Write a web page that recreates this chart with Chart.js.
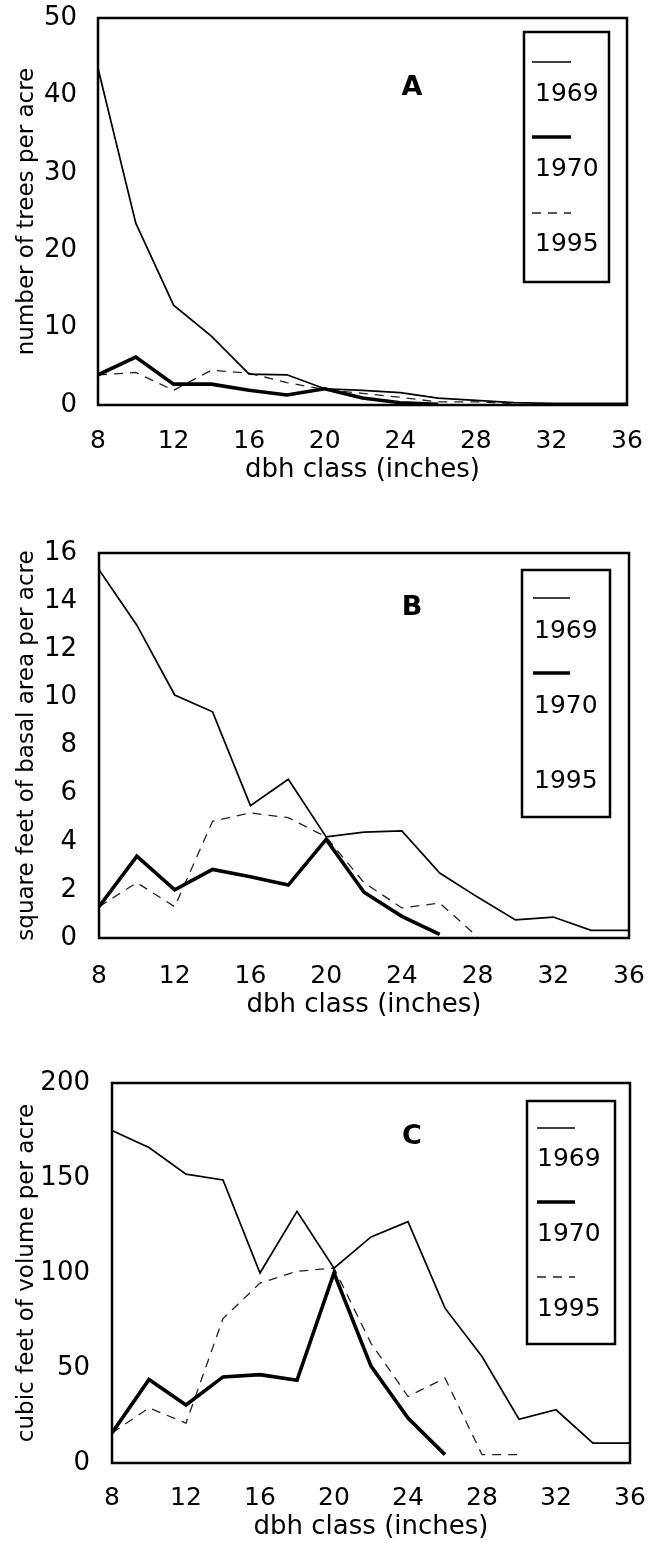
<!DOCTYPE html>
<html><head><meta charset="utf-8">
<script src="https://cdn.jsdelivr.net/npm/chart.js@4.4.1/dist/chart.umd.min.js"></script>
<style>
html,body{margin:0;padding:0;background:#fff;}
#wrap{position:relative;width:650px;height:1543px;overflow:hidden;}
.box{position:absolute;left:0;width:650px;}
</style></head><body>
<div id="wrap">
<div class="box" style="top:0;height:520px"><canvas id="cA"></canvas></div>
<div class="box" style="top:520px;height:520px"><canvas id="cB"></canvas></div>
<div class="box" style="top:1040px;height:503px"><canvas id="cC"></canvas></div>
</div>
<script>
// ---- data ----
const dbhClasses = [8,10,12,14,16,18,20,22,24,26,28,30,32,34,36];
const xTickValues = [8,12,16,20,24,28,32,36];
const seriesNames = ['1969','1970','1995'];

const treesTicks = [0,10,20,30,40,50];
const trees1969 = [43.5,23.5,12.9,8.9,4.0,3.9,2.1,1.9,1.6,0.9,0.6,0.3,0.2,0.2,0.2];
const trees1970 = [3.9,6.2,2.7,2.7,1.9,1.3,2.1,0.9,0.3,0.1];
const trees1995 = [3.9,4.2,1.9,4.5,4.1,2.9,2.0,1.5,1.0,0.4,0.4,0.2];

const basalTicks = [0,2,4,6,8,10,12,14,16];
const basal1969 = [15.3,13.0,10.1,9.4,5.5,6.6,4.2,4.4,4.45,2.7,1.7,0.75,0.87,0.32,0.32];
const basal1970 = [1.3,3.4,2.0,2.85,2.55,2.2,4.1,1.9,0.9,0.15];
const basal1995 = [1.3,2.3,1.3,4.85,5.2,5.0,4.2,2.3,1.25,1.45,0.05];

const volumeTicks = [0,50,100,150,200];
const volume1969 = [175,166,152,149,100,132.5,102.5,119,127,81.5,56,23,28,10.5,10.5];
const volume1970 = [15.8,44,30.5,45.3,46.5,43.5,100,51,23.7,4.4];
const volume1995 = [15.8,29,21,76,94.7,100.9,102.6,63,35,44.7,4.4,4.4];

// ---- rendering ----
const FONT = "'DejaVu Sans', sans-serif";
Chart.defaults.color = '#000';
Chart.defaults.font.family = FONT;

function pts(vals){ return vals.map((v,i)=>({x: dbhClasses[i], y: v})); }
function noPad(s){ s.paddingLeft = 0; s.paddingRight = 0; s.paddingTop = 0; s.paddingBottom = 0; }

const framePlugin = {
  id: 'frameLegend',
  afterDatasetsDraw(chart, args, o) {
    const ctx = chart.ctx, a = chart.chartArea;
    ctx.save();
    ctx.strokeStyle = '#000';
    ctx.lineWidth = 2.5;
    ctx.strokeRect(a.left, a.top, a.right - a.left, a.bottom - a.top);
    // panel letter
    ctx.fillStyle = '#000';
    ctx.font = "bold 27px " + FONT;
    ctx.textAlign = 'center';
    ctx.textBaseline = 'middle';
    ctx.fillText(o.letter, o.letterX, o.letterY);
    // legend box
    const b = o.box;
    ctx.lineWidth = 2.5;
    ctx.strokeRect(b[0], b[1], b[2]-b[0], b[3]-b[1]);
    ctx.font = "25px " + FONT;
    ctx.textAlign = 'left';
    o.entries.forEach((e, i) => {
      const ds = chart.data.datasets[i];
      if (e.sampleY !== null) {
        ctx.beginPath();
        ctx.lineWidth = ds.borderWidth;
        ctx.strokeStyle = ds.borderColor;
        ctx.setLineDash(ds.borderDash || []);
        ctx.moveTo(o.sampleX[0], e.sampleY);
        ctx.lineTo(o.sampleX[1], e.sampleY);
        ctx.stroke();
        ctx.setLineDash([]);
      }
      ctx.fillStyle = '#000';
      ctx.fillText(ds.label, o.textX, e.textY);
    });
    ctx.restore();
  }
};

function makeChart(id, cfg) {
  const datasets = [
    {label: seriesNames[0], data: pts(cfg.s[0]), borderColor:'#000', borderWidth:1.7},
    {label: seriesNames[1], data: pts(cfg.s[1]), borderColor:'#000', borderWidth:3.6},
    {label: seriesNames[2], data: pts(cfg.s[2]), borderColor:'#222', borderWidth:1.3, borderDash:[9,7]}
  ];
  return new Chart(document.getElementById(id), {
    type: 'line',
    data: {datasets},
    options: {
      responsive: true, maintainAspectRatio: false, animation: false,
      events: [],
      elements: {point: {radius: 0}, line: {tension: 0, borderCapStyle:'butt', borderJoinStyle:'miter'}},
      layout: {padding: {top: cfg.top, right: cfg.right, bottom: cfg.bottom, left: 0}},
      plugins: {legend: {display:false}, tooltip: {enabled:false}, frameLegend: cfg.legend},
      scales: {
        x: {
          type: 'linear', min: 8, max: 36,
          grid: {display:false, drawTicks:false}, border: {display:false},
          afterBuildTicks: s => { s.ticks = xTickValues.map(v => ({value:v})); },
          afterFit: s => { s.height = cfg.xH; noPad(s); },
          ticks: {padding: cfg.xPad, font: {size: 25}, color:'#000', maxRotation:0, autoSkip:false},
          title: {display:true, text:'dbh class (inches)', font:{size:26}, color:'#000', padding:{top:0,bottom:0}}
        },
        y: {
          type: 'linear', min: cfg.yT[0], max: cfg.yT[cfg.yT.length-1],
          grid: {display:false, drawTicks:false}, border: {display:false},
          afterBuildTicks: s => { s.ticks = cfg.yT.map(v => ({value:v})); },
          afterFit: s => { s.width = cfg.yW; noPad(s); },
          ticks: {padding: cfg.yPad, font: {size: 26}, color:'#000', autoSkip:false},
          title: {display:true, text: cfg.yTitle, font:{size:23}, color:'#000', padding:{top:13,bottom:0}}
        }
      }
    },
    plugins: [framePlugin]
  });
}

makeChart('cA', {
  s: [trees1969, trees1970, trees1995], yT: treesTicks,
  yTitle: 'number of trees per acre',
  top: 18, right: 23, bottom: 34, xH: 81, xPad: 21, yW: 98, yPad: 21,
  legend: {letter:'A', letterX:412, letterY:88, box:[524,32,609,282], sampleX:[532,571], textX:535,
    entries:[{sampleY:62,textY:94},{sampleY:137,textY:169},{sampleY:213,textY:244}]}
});
makeChart('cB', {
  s: [basal1969, basal1970, basal1995], yT: basalTicks,
  yTitle: 'square feet of basal area per acre',
  top: 33, right: 21, bottom: 19, xH: 83, xPad: 23, yW: 99, yPad: 22,
  legend: {letter:'B', letterX:412, letterY:88, box:[522,50,610,297], sampleX:[533,570], textX:534,
    entries:[{sampleY:78,textY:111},{sampleY:153,textY:186},{sampleY:null,textY:261}]}
});
makeChart('cC', {
  s: [volume1969, volume1970, volume1995], yT: volumeTicks,
  yTitle: 'cubic feet of volume per acre',
  top: 43, right: 20, bottom: 0, xH: 80, xPad: 20, yW: 112, yPad: 22,
  legend: {letter:'C', letterX:412, letterY:97, box:[527,61,615,304], sampleX:[537,575], textX:537,
    entries:[{sampleY:88,textY:119},{sampleY:162,textY:194},{sampleY:237,textY:269}]}
});
</script>
</body></html>
